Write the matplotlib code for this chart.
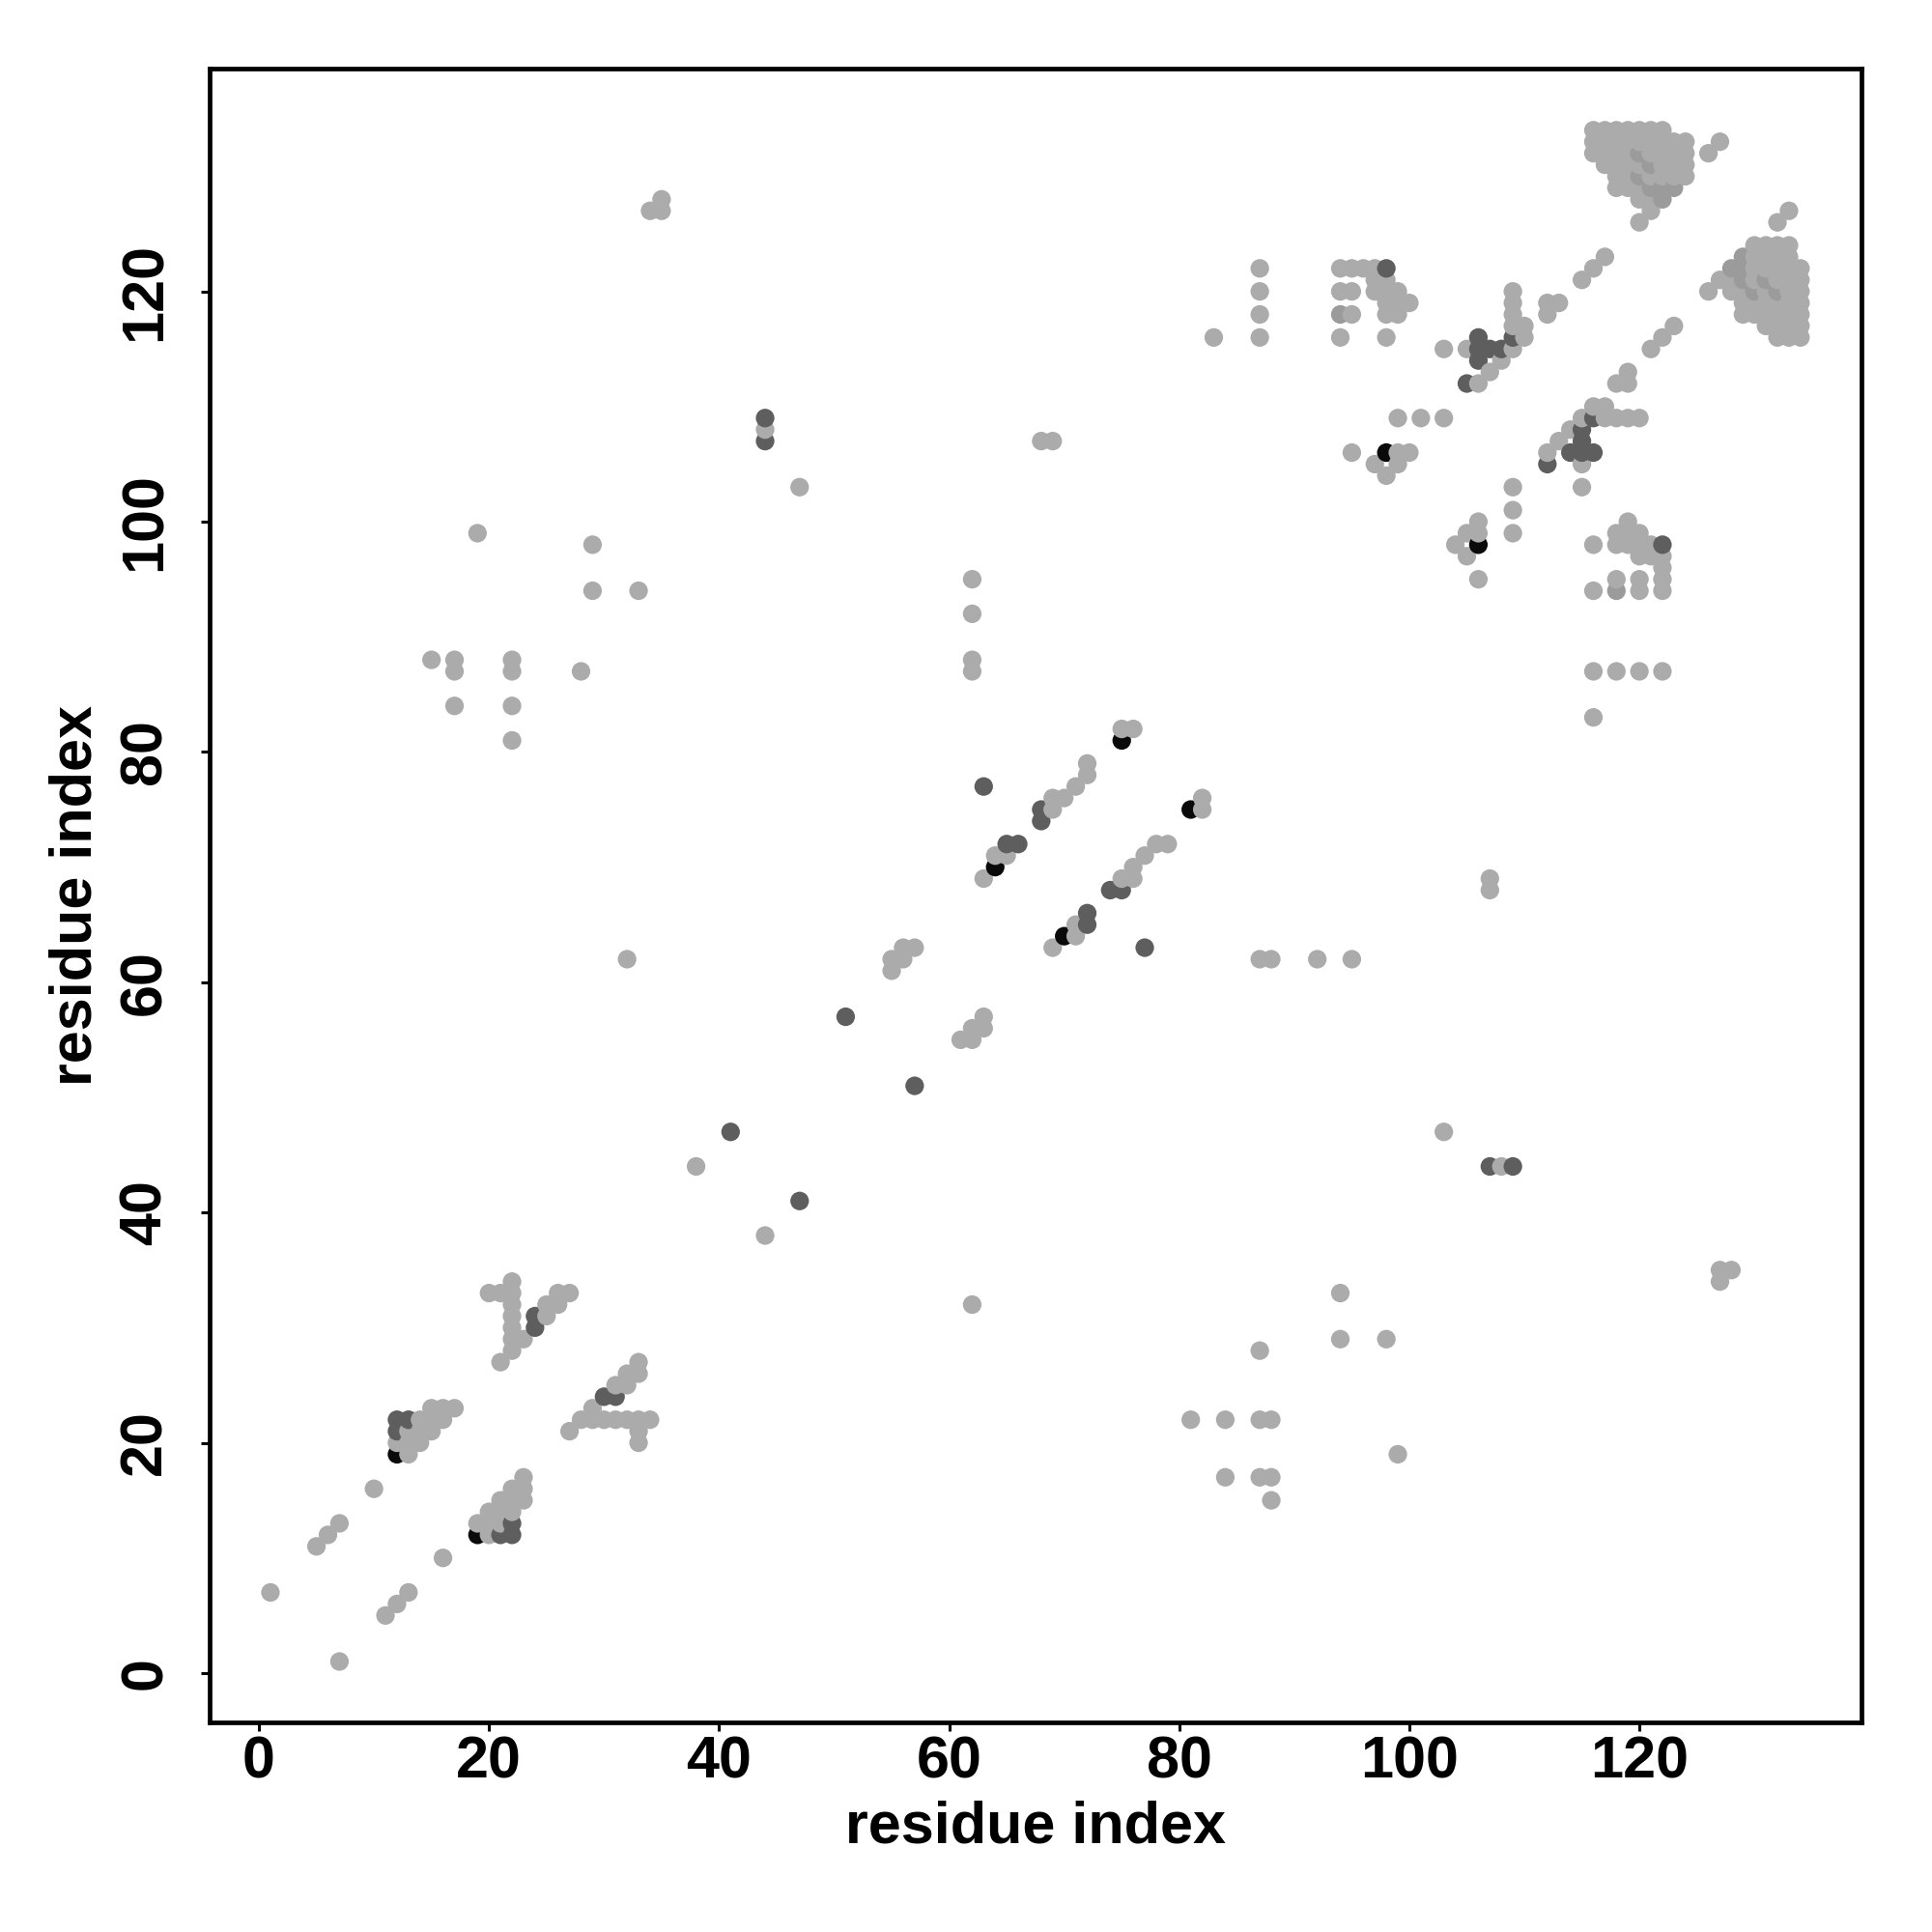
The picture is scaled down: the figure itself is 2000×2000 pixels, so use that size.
import numpy as np
import matplotlib
matplotlib.use('Agg')
import matplotlib.pyplot as plt

plt.rcParams['font.family'] = ['Liberation Sans', 'DejaVu Sans']
plt.rcParams['font.weight'] = 'bold'

# contacts, upper triangle only (i < j); the map is symmetric
light = [
    (1, 7), (5, 11), (6, 12), (7, 13), (10, 16),
    (12, 20), (13, 19), (13, 20), (13, 21), (14, 20), (14, 21), (14, 22),
    (15, 21), (15, 22), (15, 23), (16, 22), (16, 23), (17, 23),
    (20, 33), (21, 27), (21, 33), (22, 28), (22, 29), (22, 30), (22, 31),
    (22, 32), (22, 33), (22, 34), (23, 29), (25, 31), (25, 32), (26, 32),
    (26, 33), (27, 33),
    (15, 88), (17, 84), (17, 87), (17, 88), (19, 99), (22, 81), (22, 84),
    (22, 87), (22, 88), (28, 87), (29, 94), (29, 98), (33, 94),
    (34, 127), (35, 127), (35, 128),
    (44, 108), (47, 103),
    (32, 62), (38, 44), (55, 61), (55, 62), (56, 62), (56, 63), (57, 63),
    (63, 69), (64, 71), (65, 71), (69, 75), (69, 76), (70, 76), (71, 77),
    (72, 78), (72, 79), (75, 82), (76, 82),
    (62, 87), (62, 88), (62, 92), (62, 95), (68, 107), (69, 107),
    (83, 116), (87, 116), (87, 118), (87, 120), (87, 122),
    (94, 116), (94, 120), (94, 122), (95, 118), (95, 120), (95, 122),
    (96, 122), (97, 120), (97, 121), (97, 122), (98, 116), (98, 118),
    (98, 119), (98, 120), (98, 121), (99, 118), (99, 119), (99, 120), (100, 119),
    (95, 106), (97, 105), (98, 104), (99, 105), (99, 106), (100, 106),
    (99, 109), (101, 109), (103, 109),
    (103, 115), (105, 115), (106, 112), (107, 113), (108, 114), (109, 115),
    (109, 117), (109, 118), (109, 119), (109, 120), (110, 116), (110, 117),
    (112, 118), (112, 119), (113, 119),
    (115, 121), (116, 122), (117, 123), (126, 132), (127, 133),
    # dense block near the top right
    (116, 134), (117, 134), (118, 134), (119, 134), (120, 134), (121, 134), (122, 134),
    (116, 133), (117, 133), (118, 133), (119, 133), (120, 133), (121, 133), (122, 133),
    (123, 133), (124, 133),
    (116, 132), (117, 132), (118, 132), (119, 132), (121, 132), (122, 132),
    (123, 132), (124, 132),
    (117, 131), (118, 131), (119, 131), (120, 131), (122, 131), (123, 131), (124, 131),
    (118, 130), (119, 130), (121, 130), (122, 130), (123, 130), (124, 130),
    (118, 129), (119, 129), (120, 129),
    (120, 128), (121, 128),
    (121, 127), (120, 126),
]
mid = [
    (94, 118), (120, 132), (121, 131), (120, 130),
    (121, 129), (122, 129), (123, 129), (122, 128),
]
dark = [
    (12, 21), (12, 22), (13, 22), (24, 30), (24, 31), (41, 47), (44, 107),
    (44, 109), (51, 57), (63, 77), (65, 72), (66, 72), (68, 74), (68, 75),
    (98, 122), (105, 112), (106, 114), (106, 115), (106, 116), (107, 115),
    (108, 115), (109, 116),
]
black = [(12, 19), (64, 70), (75, 81), (98, 106)]

level_colors = {'light': '#ababab', 'mid': '#9b9b9b', 'dark': '#5e5e5e', 'black': '#0a0a0a'}

pts = []
for name, lst in [('light', light), ('mid', mid), ('dark', dark), ('black', black)]:
    for i, j in lst:
        pts.append((i, j, level_colors[name]))
        pts.append((j, i, level_colors[name]))
pts.sort(key=lambda p: (p[0], p[1]))

xs = np.array([p[0] for p in pts])
ys = np.array([p[1] for p in pts])
cols = [p[2] for p in pts]

fig = plt.figure(figsize=(10, 10), dpi=200)
ax = fig.add_axes([0.1083, 0.1083, 0.8553, 0.8560])
ax.scatter(xs, ys, s=48, c=cols, linewidths=0, zorder=2)

lo, hi = xs.min(), xs.max()
pad = 0.04 * (hi - lo)
ax.set_xlim(lo - pad, hi + pad)
ax.set_ylim(lo - pad, hi + pad)

ticks = [0, 20, 40, 60, 80, 100, 120]
ax.set_xticks(ticks)
ax.set_yticks(ticks)
ax.set_xticklabels([str(t) for t in ticks], fontsize=22, fontweight='bold')
ax.set_yticklabels([str(t) for t in ticks], fontsize=22, fontweight='bold',
                   rotation=90, va='center')
ax.tick_params(axis='both', direction='out', length=3.3, width=1.1, color='black')
ax.tick_params(axis='x', pad=1.5)
ax.tick_params(axis='y', pad=10)
for s in ax.spines.values():
    s.set_linewidth(1.7)

ax.set_xlabel('residue index', fontsize=22, fontweight='bold')
ax.set_ylabel('residue index', fontsize=22, fontweight='bold')
ax.xaxis.set_label_coords(0.5, -0.0635)
ax.xaxis.label.set_va('center')
ax.yaxis.set_label_coords(-0.0805, 0.5)
ax.yaxis.label.set_va('center')

fig.savefig('out.png', dpi=200, facecolor='white')
